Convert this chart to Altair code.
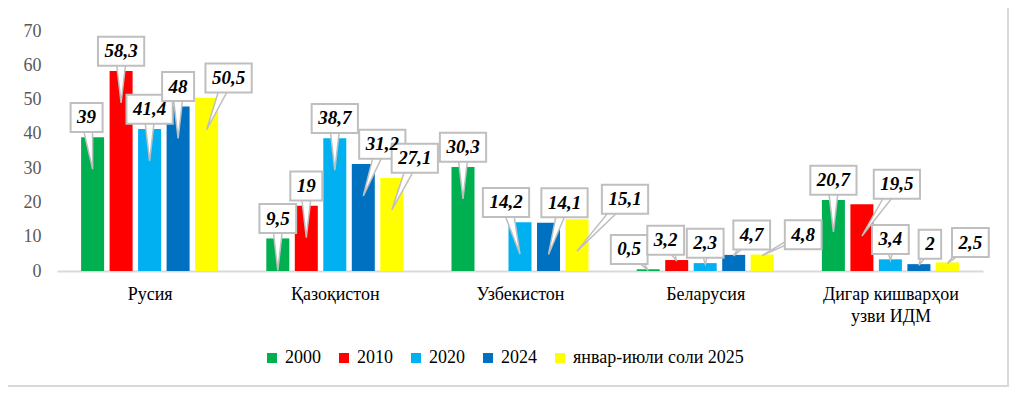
import altair as alt
import pandas as pd

# ---------------- data ----------------
categories = ["Русия", "Қазоқистон", "Узбекистон", "Беларусия", "Дигар кишварҳои\nузви ИДМ"]
series = ["2000", "2010", "2020", "2024", "январ-июли соли 2025"]
colors = ["#00b050", "#ff0000", "#00b0f0", "#0070c0", "#ffff00"]

v2000 = [39, 9.5, 30.3, 0.5, 20.7]
v2010 = [58.3, 19, None, 3.2, 19.5]
v2020 = [41.4, 38.7, 14.2, 2.3, 3.4]
v2024 = [48, 31.2, 14.1, 4.7, 2]
v2025 = [50.5, 27.1, 15.1, 4.8, 2.5]
values = [v2000, v2010, v2020, v2024, v2025]

# callout horizontal shifts (px), as placed in the original
callout_shift = [
    [-6, 0, 0, -19, 0],
    [0, 0, 0, -11, 35],
    [0, 0, -14, 0, 0],
    [0, 19, 16, 18, 11],
    [22, 23, 48, 41, 23],
]

# ---------------- layout ----------------
W, H = 926, 240
YMAX = 70
PX_CAT = W / len(categories)
PX_UNIT = H / YMAX
BAR_STEP = 28.5 / PX_CAT
BAR_HALF = 11.5 / PX_CAT
FONT = "Liberation Serif"


def fmt(v):
    return f"{v:g}".replace(".", ",")


bars, boxes, ptr = [], [], []
pid = 0
for j, s in enumerate(series):
    for i, c in enumerate(categories):
        v = values[j][i]
        if v is None:
            continue
        pos = i + (j - 2) * BAR_STEP
        bars.append(dict(series=s, value=v, x0=pos - BAR_HALF, x1=pos + BAR_HALF))
        lab = fmt(v)
        ndig = sum(ch.isdigit() for ch in lab)
        ncom = lab.count(",")
        wpx = 9.5 * ndig + 4.75 * ncom + 13
        cx = pos + callout_shift[j][i] / PX_CAT
        cy = v + 5.8
        hw = wpx / 2 / PX_CAT
        hh = 14.5 / PX_UNIT
        boxes.append(dict(label=lab, cx=cx, cy=cy, bx0=cx - hw, bx1=cx + hw, by0=cy - hh, by1=cy + hh))
        ty = v - 9.3 if v >= 9.3 else max(v - 0.3, 0.1)
        bw = 6 / PX_CAT
        for k, (px, py) in enumerate([(cx - bw, cy), (pos, ty), (cx + bw, cy)]):
            ptr.append(dict(pid=pid, k=k, px=px, py=py))
        pid += 1

bars_df = pd.DataFrame(bars)
boxes_df = pd.DataFrame(boxes)
ptr_df = pd.DataFrame(ptr)


def js_label(c):
    parts = c.split("\n")
    if len(parts) == 1:
        return "'" + c + "'"
    return "[" + ",".join("'" + p + "'" for p in parts) + "]"


label_expr = "[" + ",".join(js_label(c) for c in categories) + "][datum.value]"

xscale = alt.Scale(domain=[-0.5, len(categories) - 0.5], nice=False, zero=False)
yscale = alt.Scale(domain=[0, YMAX], nice=False)

x_axis = alt.Axis(
    values=list(range(len(categories))), labelExpr=label_expr, grid=False, ticks=False,
    tickSize=0, domainColor="#d9d9d9", domainWidth=2, labelPadding=14, labelFont=FONT,
    labelFontSize=18, labelColor="black", labelLineHeight=22, title=None,
    labelFlush=False, labelOverlap=False, labelBaseline="top",
)
y_axis = alt.Axis(
    values=list(range(0, YMAX + 1, 10)), grid=False, domain=False, ticks=False, tickSize=0,
    labelPadding=16, labelFont=FONT, labelFontSize=18, labelColor="#595959", title=None,
)

bar_layer = alt.Chart(bars_df).mark_bar().encode(
    x=alt.X("x0:Q", scale=xscale, axis=x_axis),
    x2="x1",
    y=alt.Y("value:Q", scale=yscale, axis=y_axis),
    y2=alt.datum(0),
    color=alt.Color(
        "series:N",
        scale=alt.Scale(domain=series, range=colors),
        legend=alt.Legend(
            orient="none", legendX=206, legendY=318, direction="horizontal", title=None,
            symbolType="square", symbolSize=100, symbolStrokeWidth=0, labelFont=FONT,
            labelFontSize=18, labelColor="black", columnPadding=14, labelOffset=4, padding=0,
            labelLimit=0,
        ),
    ),
)

ptr_layer = alt.Chart(ptr_df).mark_line(
    fill="white", stroke="#bfbfbf", strokeWidth=1.5, interpolate="linear-closed"
).encode(
    x=alt.X("px:Q", scale=xscale, axis=x_axis),
    y=alt.Y("py:Q", scale=yscale, axis=y_axis),
    detail="pid:N",
    order="k:Q",
)

box_layer = alt.Chart(boxes_df).mark_rect(fill="white", stroke="#bfbfbf", strokeWidth=2).encode(
    x=alt.X("bx0:Q", scale=xscale, axis=x_axis),
    x2="bx1",
    y=alt.Y("by0:Q", scale=yscale, axis=y_axis),
    y2="by1",
)

text_layer = alt.Chart(boxes_df).mark_text(
    font=FONT, fontSize=19, fontWeight="bold", fontStyle="italic", color="black", baseline="middle"
).encode(
    x=alt.X("cx:Q", scale=xscale, axis=x_axis),
    y=alt.Y("cy:Q", scale=yscale, axis=y_axis),
    text="label:N",
)

border = alt.Chart(pd.DataFrame({"a": [0]})).mark_rect(
    fillOpacity=0, stroke="#d9d9d9", strokeWidth=2
).encode(
    x=alt.value(-50), x2=alt.value(951), y=alt.value(-24), y2=alt.value(355)
)

chart = alt.layer(border, bar_layer, ptr_layer, box_layer, text_layer).properties(
    width=W, height=H,
    autosize=alt.AutoSizeParams(type="none"),
    padding={"left": 49, "top": 23, "right": 27, "bottom": 117},
    background="white",
).configure_view(stroke=None).configure_axis(labelFont=FONT).configure_legend(labelFont=FONT)

chart.save("out.html", embed_options={"renderer": "svg", "actions": False})
